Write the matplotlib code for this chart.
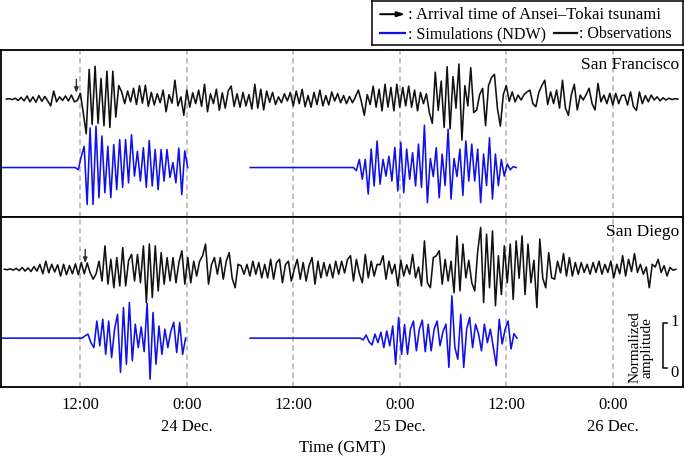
import matplotlib
matplotlib.use("Agg")
import matplotlib.pyplot as plt
import numpy as np

plt.rcParams["font.family"] = ["Liberation Serif", "DejaVu Serif"]

# ---------------------------------------------------------------------------
# Data: tide-gauge records sampled every 20 min, hours relative to 0:00 24 Dec
# amplitudes in hundredths of a normalized unit
# ---------------------------------------------------------------------------
STEP_H = 1.0 / 3.0

SF_OBS_START = -20.34
SF_OBS = [
    0, 1, -1, 2, -3, 4, -4, 7, -6, 5, -7, 8, -5, 6, -4, -15, 18, -6, 5, -3, 7, -4, 9, -6,
    -3, 13, -30,
    -77, 66, -56, 73, -54, 46, -59, 62, -63, 62, -40, 30,
    16, -10, 18, -6, 24, -12, 30, -9, 31, -16, 15, -13, 12, -8, 20, -28, 10, -9, 42, -15, 5, -36, 20,
    -18, 14, -10, 20, -16, 33, -28, 12, -10, 22, -25, 14, -20, 18, 29, -16, 12, -18,
    15, -15, 10, -22, 33, -20, 22, -24, 18, -7, 15, -12, 5, -8, 12, -4, 15, -15, 18, -10,
    22, -17, 8, -18, 15, -12, 20, -15, 8, -13, 16, -4, 12, -8, 8, -10, 6, -8, 5,
    20, -5, -36, 10, -12, 29, -18, 22, -26, 33, -18, 26, -26, 33, -18, 26, -15, 29, -18, 20,
    -26, 15, -10, 12, -30,
    -54, 60, -25, 40, -63, 72, -66, 50, -20, 78, -91, 30, -15, 70, -30, -24, 10, 24, -59, 30,
    48, 55, -20, -60, 10,
    30, -5, 16, -6, 9, -2, 10, 16, 20, -10, -17, 15, 30, 42, -12, 16, -10, 20, -20, 42,
    -20, -36, 10, 33, -24, 9, -2, 10, 24, -10, -24, 35, -6, 9, -10, 13, -13, 13, -10, 8,
    9, -13, 16, -17, -25, 16, -10, 8, -6, 9, -2, 5, -4, 3, -2, 2, -1, 1, 0,
]

SD_OBS_START = -20.56
SD_OBS = [
    0, -1, 1, -2, 2, -3, 4, -4, 3, -5, 6, -4, 11, -10, 18, -8, 11, -6, 10, -15,
    11, -12, 8, -10, 12, -12, 15, -10, 14, -8, -22,
    -10, 18, -26, 52, -33, 22, -41, 26, -37, 48, -37, 20, 33, -26, 33, -30, 52, -74, 56, -63,
    52, -48, 37, -33, 26, -26, 26, -30, 15, 41, -33,
    26, -30, 18, -15, 18, 30, 56, -33, 10, 26, -11, 26, -22, 18, 37, -20, -41, 11,
    8, -11, 11, -15, 18, -11, 15, -19, 11, -19, 22, -22, 15, 22, -30, 10, 18, -26, 0, 22,
    -22, 15, -26, 8, 26, -33, 18, -19, 15, -15, 11, -19, 18, -11, 18, -8, 22, 30, -26, 22,
    -10, -30, 33, -19, 18, -15, 11, 10, 30, -22, 18, -10, 11, -37,
    20, -15, 10, -11, 33, -19, 5, -37, 63, -30, -41, 26, 30, 41, -33, 22, -26, 18, -52, 74,
    -48, 56, -19, 20, -30, -48, 40, 93, -74, 78, -41, 85, -81, 30, -56, 52, -30, 56, -67, 63,
    -20, 74, -56, 56, -30, 20, -85, 67, -20,
    -41, 37, -19, -22, 18, -8, 35, -15, 26, -15, 15, -11, 15, -7, 11, -11, 15, -7, 18, -11,
    11, -7, 18, -19, 11, -10, 30, -15, 22, -5, 35, -7, 11, -11, 5, -41, 11, 5, 22, -7,
    8, -15, 4, -2, 0,
]

# simulation windows: (window start, first wave sample, samples)
SF_SIM = [
    (-21.0, -12.57, [0, -5, 24, 47, -82, 88, -82, 92, -67, 70, -56, 47, -67, 51, -49, 62, -44, 62,
                     -34, 73, -19, 36, -30, 44, -44, 60, -41, 40, -49, 40, -30, 40, -22, 11, -34,
                     43, -60, 37, 0]),
    (7.14, 18.77, [0, -7, 18, -26, 18, -59, 41, -41, 59, -37, 18, -19, 25, -30, 45, -52, 56, -56,
                   41, -26, 33, -41, 52, -44, 94, -78, 20, -20, 44, -67, 30, -40, 85, -70, 20, -20,
                   41, -62, 59, -30, 52, -30, 41, -78, 30, -40, 66, -70, 30, -40, 18, -19, 8, -5,
                   2, 0]),
]
SD_SIM = [
    (-21.0, -11.81, [0, 5, 9, -10, -21, 38, -17, 42, -36, 38, -43, 20, 53, -76, 68, -58, 79, -50,
                     31, -21, 25, -30, 77, -91, 57, -58, 27, -36, 20, -21, 15, 35, -32, 35, -36,
                     0]),
    (7.14, 19.53, [0, -4, 7, -8, -15, 9, -10, 13, -21, 16, -17, 27, -58, 46, -36, 30, -36, 20, 38,
                   -28, 20, 40, -30, 31, -28, 20, 38, -17, 15, 31, -65, 94, -20, -47, 53, -65, 20,
                   46, -21, 31, 10, -28, 31, -10, 20, -20, -61, 42, -13, 20, 38, -24, 10, 0]),
]

ARRIVAL_SF = -12.45   # hours, Ansei-Tokai tsunami arrival
ARRIVAL_SD = -11.45

TICK_HOURS = [-12, 0, 12, 24, 36, 48]
TICK_LABELS = ["12:00", "0:00\n24 Dec.", "12:00", "0:00\n25 Dec.", "12:00", "0:00\n26 Dec."]

OBS_COLOR = "#111111"
SIM_COLOR = "#1010e8"
GRID_COLOR = "#bcbcbc"


def series_times(start, values):
    return start + STEP_H * np.arange(len(values))


def draw_panel(ax, name, obs_start, obs, sims, sim_offset, arrival, ylim):
    ax.set_xlim(-20.9, 55.9)
    ax.set_ylim(*ylim)
    for h in TICK_HOURS:
        ax.axvline(h, color=GRID_COLOR, lw=1.3, ls=(0, (3, 2)), zorder=0)

    ax.plot(series_times(obs_start, obs), np.array(obs) / 100.0,
            color=OBS_COLOR, lw=1.15)

    for win_start, wave_start, vals in sims:
        t = np.concatenate([[win_start], series_times(wave_start, vals)])
        y = np.concatenate([[0.0], np.array(vals) / 100.0]) + sim_offset
        ax.plot(t, y, color=SIM_COLOR, lw=1.15)

    ax.annotate("", xy=(arrival, 0.14), xytext=(arrival, 0.44),
                arrowprops=dict(arrowstyle="-|>,head_width=0.12,head_length=0.3",
                                color="#3a2a2a", lw=1.0, shrinkA=0, shrinkB=0))

    ax.text(0.994, 0.965, name, transform=ax.transAxes, ha="right", va="top",
            fontsize=12.5)

    ax.set_yticks([])
    ax.set_xticks(TICK_HOURS)
    ax.tick_params(axis="x", length=0, pad=6, labelsize=12)
    for spine in ax.spines.values():
        spine.set_linewidth(1.3)


fig = plt.figure(figsize=(6.85, 4.6), dpi=100)
ax1 = fig.add_axes([0.002, 0.526, 0.995, 0.363])
ax2 = fig.add_axes([0.002, 0.156, 0.995, 0.370])

draw_panel(ax1, "San Francisco", SF_OBS_START, SF_OBS, SF_SIM, -1.52, ARRIVAL_SF,
           (-2.62, 1.09))
draw_panel(ax2, "San Diego", SD_OBS_START, SD_OBS, SD_SIM, -1.53, ARRIVAL_SD,
           (-2.62, 1.16))

ax1.set_xticklabels([])
ax2.set_xticklabels(TICK_LABELS)
for lab in ax2.get_xticklabels():
    lab.set_linespacing(1.5)

# normalized amplitude scale bar
bar_x = 53.6
ax2.plot([bar_x + 0.45, bar_x, bar_x, bar_x + 0.45], [-1.2, -1.2, -2.2, -2.2],
         color="black", lw=1.1)
ax2.text(bar_x + 0.9, -1.14, "1", ha="left", va="center", fontsize=12)
ax2.text(bar_x + 0.9, -2.28, "0", ha="left", va="center", fontsize=12)
ax2.text(51.2, -1.71, "Normalized\namplitude", rotation=90, ha="center", va="center",
         fontsize=11, linespacing=0.85)

fig.text(0.5, 1 - 448 / 460, "Time (GMT)", ha="center", va="center", fontsize=12)

# legend box
lg = fig.add_axes([372 / 685, 1 - 46 / 460, 311 / 685, 44 / 460])
lg.set_xlim(0, 1)
lg.set_ylim(0, 1)
lg.set_xticks([])
lg.set_yticks([])
for spine in lg.spines.values():
    spine.set_linewidth(1.1)
lg.annotate("", xy=(0.106, 0.70), xytext=(0.026, 0.70),
            arrowprops=dict(arrowstyle="-|>,head_width=0.15,head_length=0.45",
                            color="black", lw=1.4, shrinkA=0, shrinkB=0))
lg.text(0.116, 0.70, ": Arrival time of Ansei\u2013Tokai tsunami", va="center", fontsize=12)
lg.plot([0.026, 0.106], [0.27, 0.27], color=SIM_COLOR, lw=1.6)
lg.text(0.116, 0.27, ": Simulations (NDW)", va="center", fontsize=11.5)
lg.plot([0.585, 0.659], [0.27, 0.27], color=OBS_COLOR, lw=1.6)
lg.text(0.666, 0.27, ": Observations", va="center", fontsize=11.5)

fig.savefig("out.png", dpi=100)
